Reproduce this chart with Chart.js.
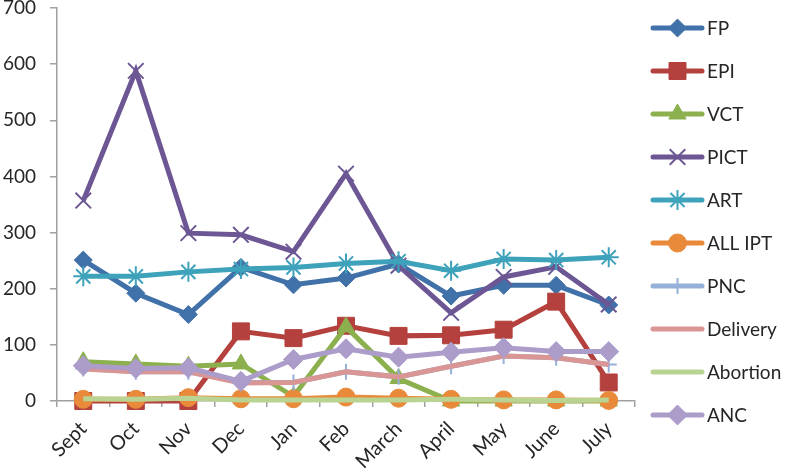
<!DOCTYPE html>
<html>
<head>
<meta charset="utf-8">
<script src="https://cdn.jsdelivr.net/npm/chart.js@4.4.1/dist/chart.umd.min.js"></script>
<style>
  html, body { margin: 0; padding: 0; background: #ffffff; }
  #wrap { width: 789px; height: 475px; position: relative; }
</style>
</head>
<body>
<div id="wrap"><canvas id="c" width="789" height="475"></canvas></div>
<script>
const months = ["Sept", "Oct", "Nov", "Dec", "Jan", "Feb", "March", "April", "May", "June", "July"];
const yTicks = [0, 100, 200, 300, 400, 500, 600, 700];

const fp       = [251, 192, 154, 238, 207, 219, 244, 187, 206, 206, 171];
const epi      = [0, 0, 0, 124, 112, 134, 116, 117, 127, 177, 33];
const vct      = [70, 66, 62, 66, 8, 132, 40, 0, 0, 0, 0];
const pict     = [357, 588, 299, 296, 266, 405, 241, 157, 221, 239, 172];
const art      = [222, 222, 230, 235, 238, 245, 249, 232, 253, 251, 256];
const allIpt   = [3, 3, 6, 4, 4, 7, 5, 3, 2, 2, 1];
const pnc      = [58, 52, 52, 33, 33, 52, 43, 62, 80, 77, 65];
const delivery = [57, 52, 52, 32, 33, 52, 43, 62, 80, 77, 65];
const abortion = [4, 3, 5, 2, 2, 2, 2, 3, 2, 1, 2];
const anc      = [63, 58, 59, 35, 74, 93, 78, 87, 95, 88, 88];

const seriesNames = ["FP", "EPI", "VCT", "PICT", "ART", "ALL IPT", "PNC", "Delivery", "Abortion", "ANC"];
const seriesData = [fp, epi, vct, pict, art, allIpt, pnc, delivery, abortion, anc];

const styles = [
  { color: '#4171a9', point: 'rectRot', r: 9, bw: 1 },
  { color: '#b4413e', point: 'rect', r: 12, bw: 1 },
  { color: '#8cb04e', point: 'triangle', r: 10, bw: 1 },
  { color: '#6c5794', point: 'crossRot', r: 11, bw: 2 },
  { color: '#3ea2bb', point: 'star', r: 10, bw: 2 },
  { color: '#e88a3a', point: 'circle', r: 9, bw: 1 },
  { color: '#95b1da', point: 'cross', r: 8, bw: 2 },
  { color: '#d99694', point: false, r: 0, bw: 1 },
  { color: '#b9d492', point: false, r: 0, bw: 1 },
  { color: '#ab9cca', point: 'rectRot', r: 10, bw: 1 }
];

const datasets = seriesNames.map((name, i) => ({
  label: name,
  data: seriesData[i],
  borderColor: styles[i].color,
  backgroundColor: styles[i].color,
  borderWidth: 5,
  pointStyle: styles[i].point,
  pointRadius: styles[i].r,
  pointHoverRadius: styles[i].r,
  pointBorderWidth: styles[i].bw,
  pointBorderColor: styles[i].color,
  pointBackgroundColor: styles[i].color,
  tension: 0,
  clip: false,
  order: seriesNames.length - i
}));

function drawMarker(ctx, style, x, y, r, color, bw) {
  if (!style) return;
  ctx.save();
  ctx.fillStyle = color;
  ctx.strokeStyle = color;
  ctx.lineWidth = bw;
  ctx.beginPath();
  const s = Math.SQRT1_2 * r;
  switch (style) {
    case 'rectRot':
      ctx.moveTo(x, y - r); ctx.lineTo(x + r, y); ctx.lineTo(x, y + r); ctx.lineTo(x - r, y); ctx.closePath();
      ctx.fill(); ctx.stroke(); break;
    case 'rect':
      ctx.rect(x - s, y - s, 2 * s, 2 * s); ctx.fill(); ctx.stroke(); break;
    case 'triangle':
      ctx.moveTo(x, y - r); ctx.lineTo(x + r * 0.866, y + r * 0.5); ctx.lineTo(x - r * 0.866, y + r * 0.5); ctx.closePath();
      ctx.fill(); ctx.stroke(); break;
    case 'circle':
      ctx.arc(x, y, r, 0, Math.PI * 2); ctx.fill(); ctx.stroke(); break;
    case 'crossRot':
      ctx.moveTo(x - s, y - s); ctx.lineTo(x + s, y + s); ctx.moveTo(x - s, y + s); ctx.lineTo(x + s, y - s); ctx.stroke(); break;
    case 'cross':
      ctx.moveTo(x, y - r); ctx.lineTo(x, y + r); ctx.moveTo(x - r, y); ctx.lineTo(x + r, y); ctx.stroke(); break;
    case 'star':
      ctx.moveTo(x, y - r); ctx.lineTo(x, y + r); ctx.moveTo(x - r, y); ctx.lineTo(x + r, y);
      ctx.moveTo(x - s, y - s); ctx.lineTo(x + s, y + s); ctx.moveTo(x - s, y + s); ctx.lineTo(x + s, y - s); ctx.stroke(); break;
  }
  ctx.restore();
}

const legendPlugin = {
  id: 'sideLegend',
  afterDraw(chart) {
    const ctx = chart.ctx;
    const x0 = 653, x1 = 702, top = 28, step = 43;
    chart.data.datasets.forEach((ds, i) => {
      const y = top + step * i;
      ctx.save();
      ctx.strokeStyle = ds.borderColor;
      ctx.lineWidth = 5;
      ctx.lineCap = 'round';
      ctx.beginPath(); ctx.moveTo(x0, y); ctx.lineTo(x1, y); ctx.stroke();
      ctx.restore();
      drawMarker(ctx, ds.pointStyle, (x0 + x1) / 2, y, ds.pointRadius, ds.borderColor, ds.pointBorderWidth);
      ctx.save();
      ctx.fillStyle = '#262626';
      ctx.font = '19px Lato';
      ctx.textAlign = 'left';
      ctx.textBaseline = 'middle';
      ctx.fillText(ds.label, 707, y + 1);
      ctx.restore();
    });
  }
};

new Chart(document.getElementById('c'), {
  type: 'line',
  data: { labels: months, datasets },
  plugins: [legendPlugin],
  options: {
    responsive: false,
    animation: false,
    devicePixelRatio: 1,
    layout: { autoPadding: false, padding: { top: 0, right: 154, left: 0, bottom: 0 } },
    plugins: { legend: { display: false }, tooltip: { enabled: false } },
    scales: {
      x: {
        offset: true,
        grid: { offset: true, drawOnChartArea: false, drawTicks: true, tickLength: 6, color: '#a0a0a0', lineWidth: 1.5 },
        border: { color: '#a0a0a0', width: 1.5 },
        ticks: { maxRotation: 45, minRotation: 45, padding: 10, color: '#262626', font: { family: 'Lato', size: 20 }, autoSkip: false },
        afterFit: (s) => { s.height = 74; s.paddingLeft = 0; s.paddingRight = 0; }
      },
      y: {
        min: 0, max: 700,
        afterBuildTicks: (s) => { s.ticks = yTicks.map(v => ({ value: v })); },
        grid: { drawOnChartArea: false, drawTicks: true, tickLength: 7, color: '#a0a0a0', lineWidth: 1.5 },
        border: { color: '#a0a0a0', width: 1.5 },
        ticks: { padding: 14, color: '#262626', font: { family: 'Lato', size: 19 } },
        afterFit: (s) => { s.width = 57; s.paddingTop = 8; s.paddingBottom = 0; }
      }
    }
  }
});
</script>
</body>
</html>
